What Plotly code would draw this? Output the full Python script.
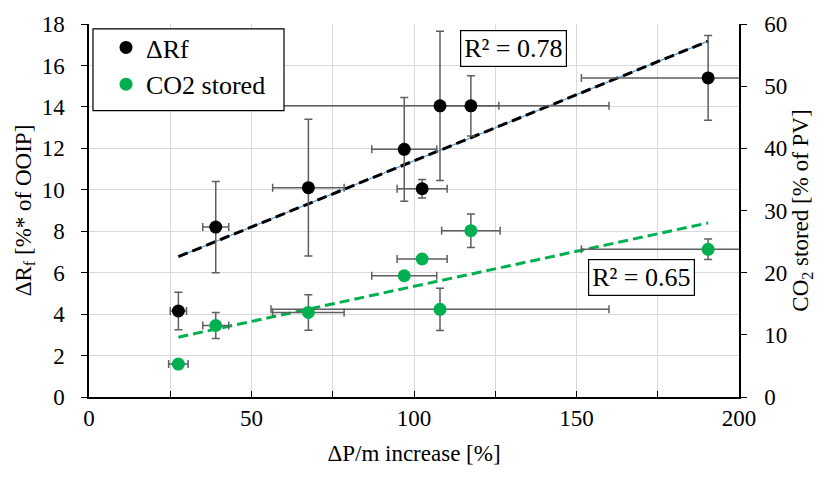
import numpy as np
import plotly.graph_objects as go

# Pressure-gradient increase per experiment [%]
dp_increase = [27.5, 39.0, 67.5, 97.0, 102.5, 108.0, 117.5, 190.5]
dp_err = [2.5, 4.0, 11.0, 10.0, 7.7, 52.0, 8.6, 39.0]

# Incremental recovery factor [% of OOIP]
delta_rf = [4.15, 8.2, 10.1, 11.95, 10.05, 14.05, 14.05, 15.4]
delta_rf_err = [0.9, 2.2, 3.3, 2.5, 0.45, 3.6, 1.45, 2.05]

# CO2 stored [% of PV]
dp_increase_co2 = [27.5, 39.0, 67.5, 97.0, 102.5, 108.0, 117.5, 190.5]
dp_err_co2 = [3.0, 4.0, 11.0, 10.0, 7.7, 52.0, 9.0, 39.0]
co2_stored = [5.3, 11.5, 13.6, 19.5, 22.2, 14.1, 26.75, 23.75]
co2_err = [0.0, 2.1, 2.85, 0.0, 0.0, 3.4, 2.7, 1.65]

r2_labels = ["R² = 0.78", "R² = 0.65"]

FONT = "Liberation Serif, Times New Roman, serif"
BLACK = "#000000"
GREEN = "#00b050"
ERR = "#5f5f5f"


def linear_fit(x, y):
    slope, intercept = np.polyfit(x, y, 1)
    xs = np.array([min(x), max(x)])
    return xs, slope * xs + intercept


fig = go.Figure()

# Linear trend lines
fx, fy = linear_fit(dp_increase, delta_rf)
fig.add_trace(go.Scatter(x=fx, y=fy, mode="lines", showlegend=False, hoverinfo="skip",
                         line=dict(color="#5b9bd5", width=1.2)))
fig.add_trace(go.Scatter(x=fx, y=fy, mode="lines", showlegend=False, hoverinfo="skip",
                         line=dict(color=BLACK, width=3, dash="10px,5px")))
gx, gy = linear_fit(dp_increase_co2, co2_stored)
fig.add_trace(go.Scatter(x=gx, y=gy, mode="lines", showlegend=False, hoverinfo="skip",
                         yaxis="y2", line=dict(color=GREEN, width=3, dash="10px,5px")))

err_style = dict(color=ERR, thickness=1.5, width=4)

fig.add_trace(go.Scatter(
    x=dp_increase, y=delta_rf, mode="markers", name="ΔRf", legendgroup="a",
    marker=dict(color=BLACK, size=13, line=dict(width=0)),
    error_x=dict(type="data", array=dp_err, visible=True, **err_style),
    error_y=dict(type="data", array=delta_rf_err, visible=True, **err_style),
))
fig.add_trace(go.Scatter(
    x=dp_increase_co2, y=co2_stored, mode="markers", name="CO2 stored", legendgroup="b",
    yaxis="y2",
    marker=dict(color=GREEN, size=13, line=dict(width=0)),
    error_x=dict(type="data", array=dp_err_co2, visible=True, **err_style),
    error_y=dict(type="data", array=co2_err, visible=True, **err_style),
))

# Legend frame
fig.add_shape(type="rect", xref="paper", yref="paper", layer="above",
              x0=(93 - 89) / 650, x1=(284 - 89) / 650,
              y0=(397 - 106) / 379, y1=(397 - 23) / 379,
              fillcolor="white", line=dict(color=BLACK, width=1.2))

fig.add_annotation(x=130.5, y=16.8, xref="x", yref="y", text=r2_labels[0], showarrow=False,
                   font=dict(family=FONT, size=26, color=BLACK), bgcolor="white",
                   bordercolor=BLACK, borderwidth=1.2, borderpad=3)
fig.add_annotation(x=170, y=5.75, xref="x", yref="y", text=r2_labels[1], showarrow=False,
                   font=dict(family=FONT, size=26, color=BLACK), bgcolor="white",
                   bordercolor=BLACK, borderwidth=1.2, borderpad=3)

axis_font = dict(family=FONT, size=23, color=BLACK)

fig.update_layout(
    width=827, height=483,
    margin=dict(l=89, r=88, t=18, b=86),
    paper_bgcolor="white", plot_bgcolor="white",
    font=dict(family=FONT, size=23, color=BLACK),
    showlegend=True,
    legend=dict(x=(106 - 89) / 650, y=1.0, xanchor="left", yanchor="top",
                bgcolor="rgba(0,0,0,0)", borderwidth=0, tracegroupgap=0,
                font=dict(family=FONT, size=26, color=BLACK)),
    xaxis=dict(
        range=[0, 200], tickvals=[0, 50, 100, 150, 200],
        showgrid=True, gridcolor="#d9d9d9", gridwidth=1,
        minor=dict(dtick=25, showgrid=True, gridcolor="#d9d9d9", ticks="inside",
                   ticklen=6, tickcolor=BLACK),
        ticks="inside", ticklen=6, tickcolor=BLACK,
        showline=True, linecolor=BLACK, linewidth=1.5,
        zeroline=False, tickfont=axis_font,
        title=dict(text="ΔP/m increase [%]", font=axis_font, standoff=15),
    ),
    yaxis=dict(
        range=[0, 18], dtick=2,
        showgrid=True, gridcolor="#d9d9d9", gridwidth=1,
        ticks="outside", ticklen=6, tickcolor=BLACK,
        showline=True, linecolor=BLACK, linewidth=1.5,
        zeroline=False, tickfont=axis_font, ticklabelstandoff=12,
        title=dict(text="ΔR<sub>f</sub> [%* of OOIP]", font=axis_font, standoff=4),
    ),
    yaxis2=dict(
        range=[0, 60], dtick=10, overlaying="y", side="right",
        showgrid=False,
        ticks="outside", ticklen=6, tickcolor=BLACK,
        showline=True, linecolor=BLACK, linewidth=1.5,
        zeroline=False, tickfont=axis_font, ticklabelstandoff=13,
        title=dict(text="CO<sub>2</sub> stored [% of PV]", font=axis_font, standoff=6),
    ),
)

fig.write_html("out.html")
